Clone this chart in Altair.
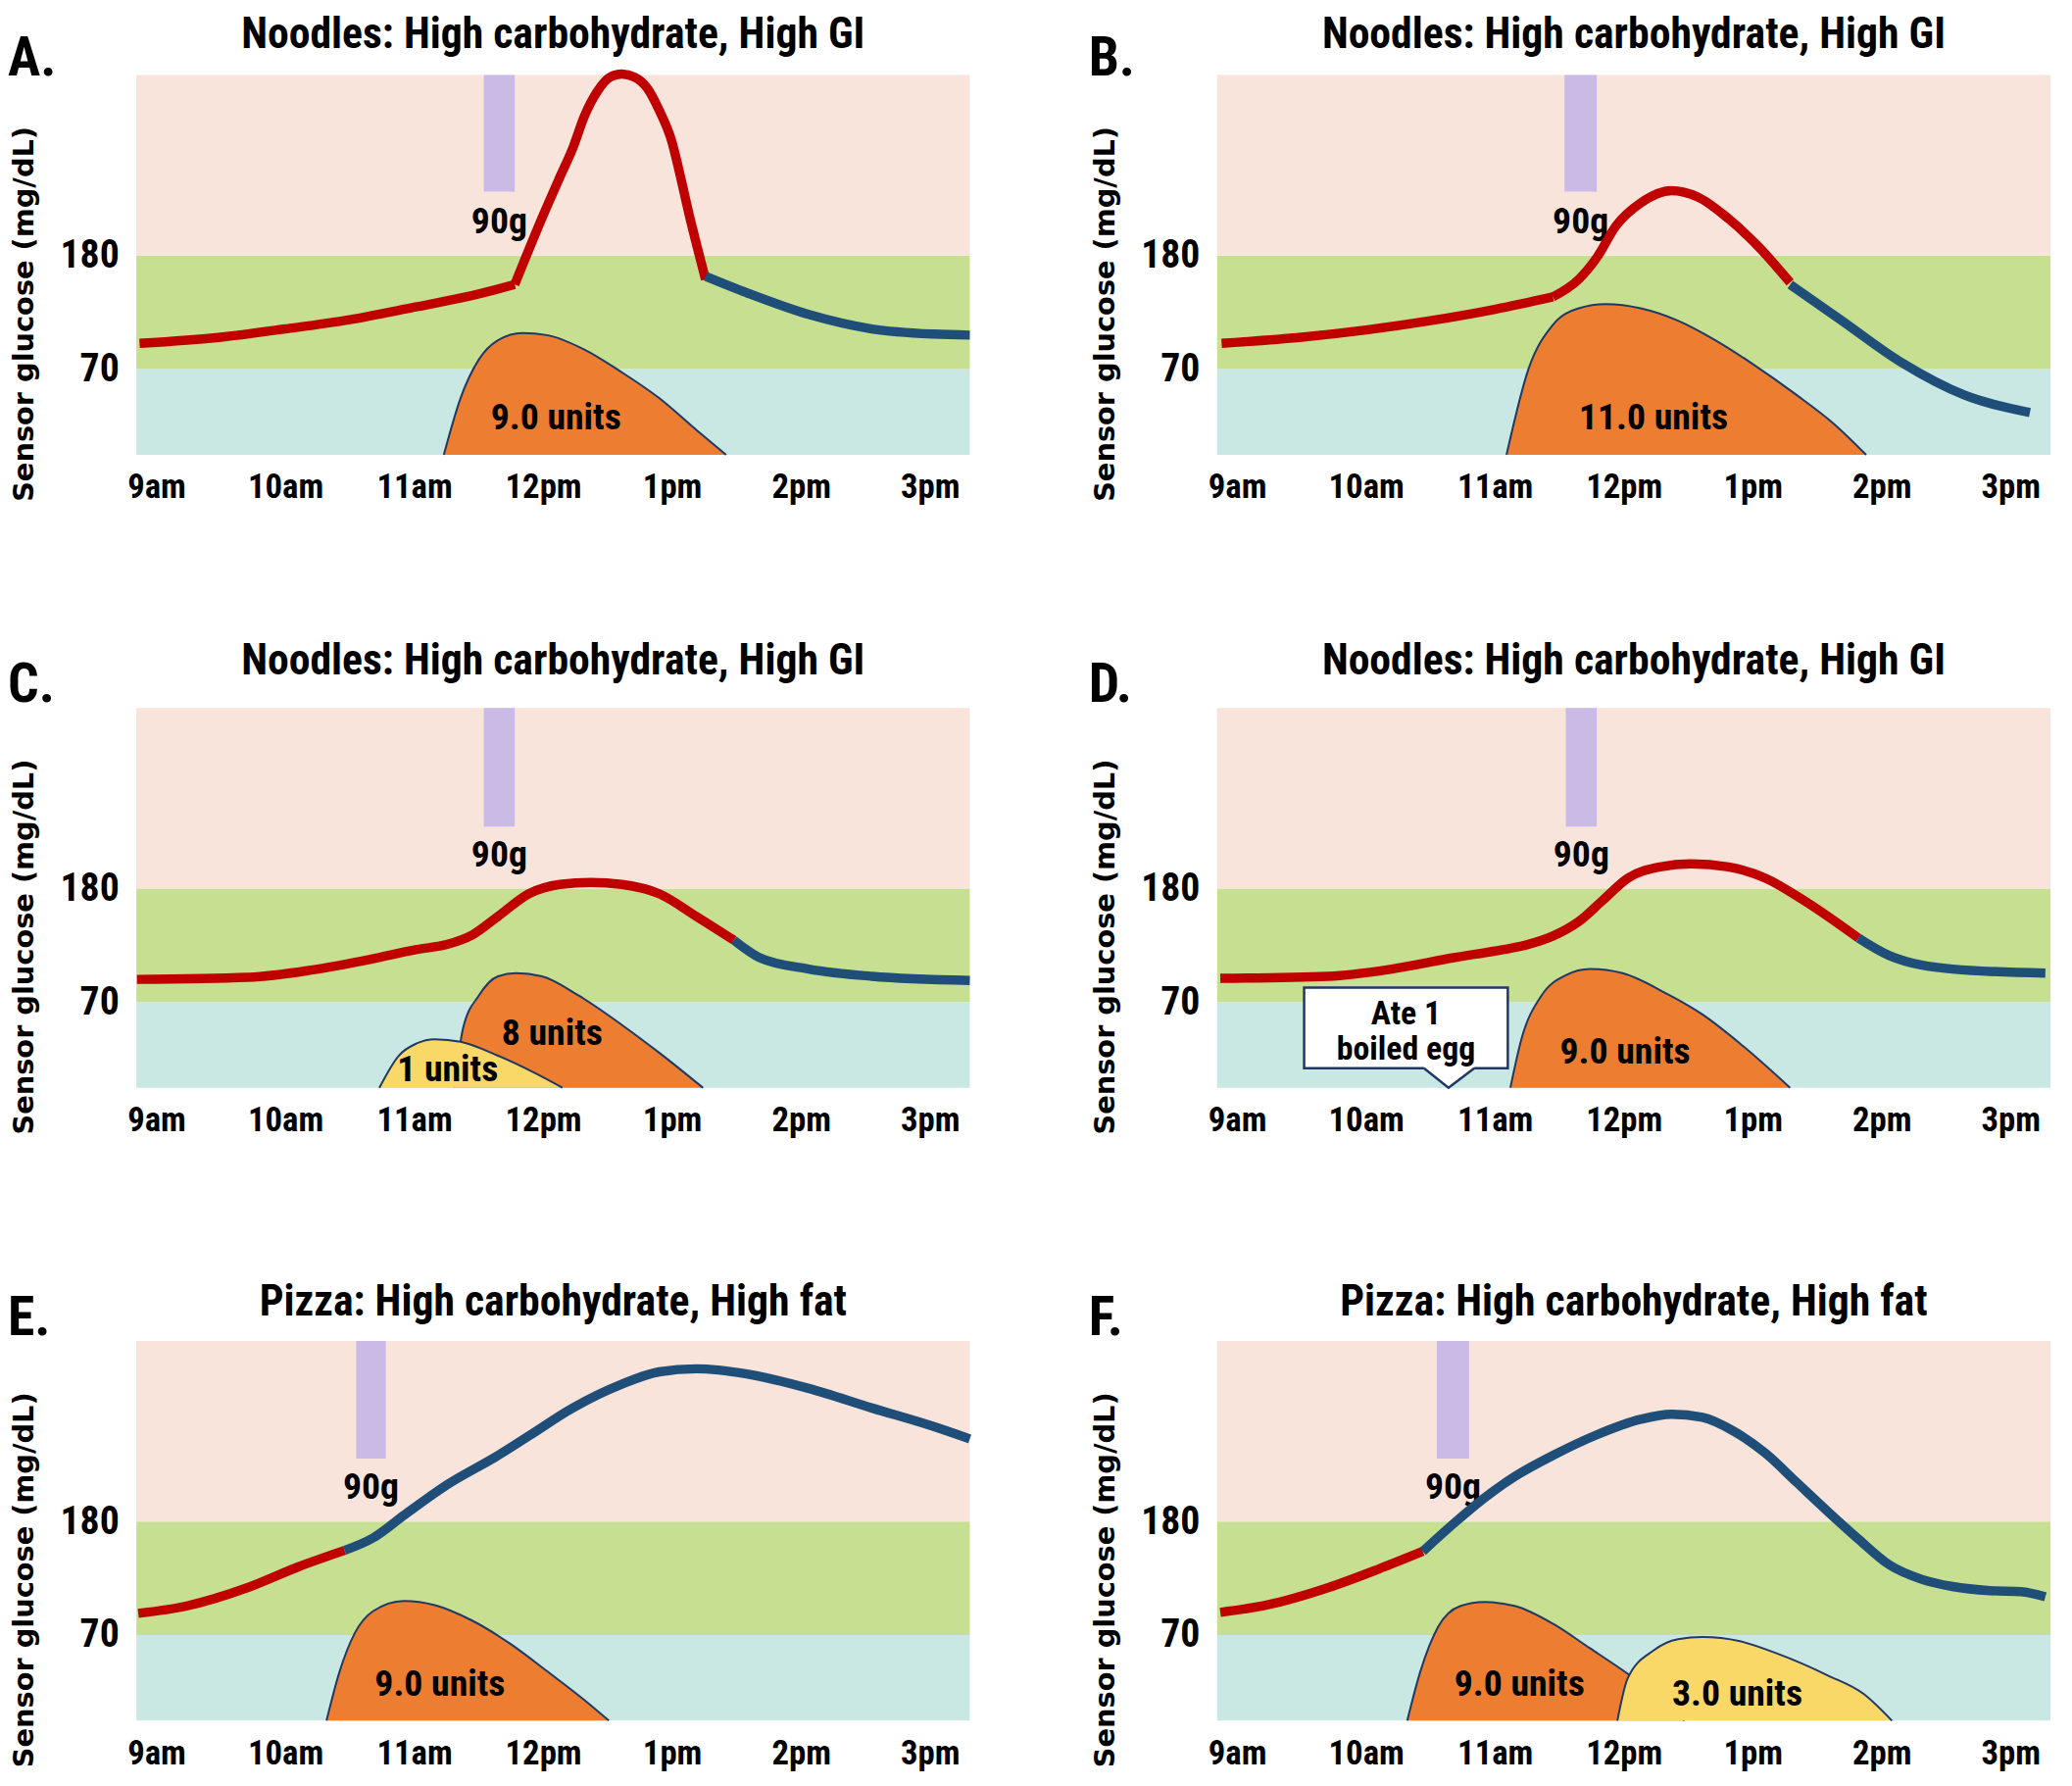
import altair as alt
import pandas as pd

NARROW = "Liberation Sans Narrow, Roboto Condensed, DejaVu Sans Condensed, Liberation Sans"
WIDE = "DejaVu Sans, Liberation Sans, Arial"

# ---------------- shared axes / background ----------------
X_DOMAIN = [8.845, 15.31]
Y_DOMAIN = [-13, 355]
HOUR_TICKS = [9, 10, 11, 12, 13, 14, 15]
HOUR_LABELS = ["9am", "10am", "11am", "12pm", "1pm", "2pm", "3pm"]
GLUCOSE_TICKS = [70, 180]
BAND_LOW = [-13, 70, 180]
BAND_HIGH = [70, 180, 355]
BAND_COLORS = ["#c9e8e4", "#c6df90", "#f8e4da"]

LETTERS = ["A.", "B.", "C.", "D.", "E.", "F."]
TITLES = ["Noodles: High carbohydrate, High GI"] * 4 + ["Pizza: High carbohydrate, High fat"] * 2

MEAL_START = [11.54, 11.54, 11.54, 11.55, 10.55, 10.55]
MEAL_END = [11.78, 11.79, 11.78, 11.79, 10.78, 10.80]
MEAL_LOW = [242, 242, 240, 240, 241, 241]
MEAL_TEXT = ["90g"] * 6
MEAL_TEXT_G = [212] * 6

RED = "#c00000"
BLUE = "#1f4e79"
ORANGE = "#ed7d31"
YELLOW = "#f9d867"
NAVY = "#1f3864"
PURPLE = "#c9bbe6"

# ---------------- glucose curves (time in hours, mg/dL) ----------------
A_RED1_T = [8.87, 9.5, 10.0, 10.5, 11.0, 11.4, 11.78]
A_RED1_G = [95, 101, 109, 118, 130, 140, 152]
A_RED2_T = [11.78, 11.99, 12.13, 12.23, 12.32, 12.42, 12.52, 12.61, 12.71, 12.81, 12.9, 13.0, 13.05, 13.14, 13.19, 13.26]
A_RED2_G = [152, 216, 256, 284, 315, 339, 353, 356, 353, 342, 321, 290, 265, 216, 191, 157]
A_BLUE_T = [13.26, 13.58, 14.06, 14.55, 15.03, 15.31]
A_BLUE_G = [160, 144, 123, 109, 104, 103]

B_RED1_T = [8.88, 9.5, 10.0, 10.5, 11.0, 11.45]
B_RED1_G = [95, 101, 108, 117, 128, 140]
B_RED2_T = [11.45, 11.65, 11.79, 11.94, 12.13, 12.37, 12.57, 12.81, 13.05, 13.29]
B_RED2_G = [140, 157, 178, 209, 231, 243, 237, 216, 188, 154]
B_BLUE_T = [13.29, 13.68, 14.16, 14.64, 15.15]
B_BLUE_G = [152, 118, 76, 45, 28]

C_RED_T = [8.85, 9.71, 10.2, 10.68, 11.02, 11.26, 11.45, 11.65, 11.89, 12.13, 12.37, 12.61, 12.9, 13.19, 13.48]
C_RED_G = [92, 94, 101, 112, 121, 126, 135, 153, 175, 184, 186, 184, 175, 153, 130]
C_BLUE_T = [13.48, 13.68, 14.06, 14.55, 15.31]
C_BLUE_G = [130, 113, 102, 95, 91]

D_RED_T = [8.87, 9.71, 10.2, 10.68, 11.07, 11.26, 11.45, 11.65, 11.84, 12.03, 12.28, 12.52, 12.81, 13.1, 13.39, 13.82]
D_RED_G = [93, 95, 102, 113, 121, 126, 134, 148, 169, 190, 201, 204, 201, 190, 169, 132]
D_BLUE_T = [13.82, 14.06, 14.55, 15.27]
D_BLUE_G = [132, 115, 102, 98]

E_RED_T = [8.86, 9.23, 9.71, 10.1, 10.46]
E_RED_G = [91, 98, 116, 136, 152]
E_BLUE_T = [10.46, 10.68, 10.92, 11.26, 11.65, 11.89, 12.23, 12.61, 12.9, 13.19, 13.58, 14.06, 14.55, 15.03, 15.31]
E_BLUE_G = [152, 164, 186, 216, 244, 263, 290, 313, 325, 328, 323, 309, 290, 272, 260]

F_RED_T = [8.87, 9.23, 9.71, 10.1, 10.44]
F_RED_G = [92, 99, 116, 134, 151]
F_BLUE_T = [10.44, 10.68, 10.92, 11.16, 11.45, 11.79, 12.13, 12.37, 12.61, 12.86, 13.1, 13.34, 13.58, 13.82, 14.06, 14.31, 14.55, 14.84, 15.08, 15.27]
F_BLUE_G = [151, 178, 203, 224, 244, 264, 279, 284, 281, 267, 246, 218, 190, 163, 138, 124, 117, 113, 112, 107]

# ---------------- insulin curves (drawn on glucose scale) ----------------
A_ORANGE_T = [11.23, 11.36, 11.5, 11.65, 11.84, 12.03, 12.32, 12.61, 12.9, 13.19, 13.42]
A_ORANGE_G = [-13, 42, 79, 98, 105, 103, 89, 67, 42, 11, -13]
B_ORANGE_T = [11.09, 11.26, 11.45, 11.65, 11.86, 12.13, 12.42, 12.71, 13.0, 13.34, 13.63, 13.88]
B_ORANGE_G = [-13, 70, 113, 129, 133, 129, 117, 98, 75, 45, 17, -13]
C_ORANGE_T = [11.31, 11.38, 11.5, 11.65, 11.79, 11.99, 12.28, 12.61, 12.9, 13.24]
C_ORANGE_G = [-13, 45, 76, 95, 98, 95, 76, 48, 21, -13]
C_YELLOW_T = [10.73, 10.88, 11.02, 11.16, 11.36, 11.65, 11.94, 12.15]
C_YELLOW_G = [-13, 18, 30, 34, 31.5, 18, 1, -13]
D_ORANGE_T = [11.12, 11.21, 11.36, 11.55, 11.74, 11.99, 12.32, 12.61, 12.9, 13.29]
D_ORANGE_G = [-13, 36, 76, 96, 102, 98, 79, 58, 30, -13]
E_ORANGE_T = [10.32, 10.42, 10.54, 10.68, 10.92, 11.16, 11.45, 11.74, 12.03, 12.32, 12.51]
E_ORANGE_G = [-13, 34, 72, 93, 103, 99, 84, 62, 35, 7, -13]
F_ORANGE_T = [10.32, 10.42, 10.56, 10.73, 10.92, 11.16, 11.45, 11.74, 11.99, 12.13, 12.32, 12.47]
F_ORANGE_G = [-13, 34, 78, 98, 102, 98, 81, 57, 36, 23.5, 5, -13]
F_YELLOW_T = [11.95, 12.03, 12.23, 12.42, 12.61, 12.9, 13.19, 13.58, 13.86, 14.08]
F_YELLOW_G = [-13, 28, 55, 66, 68, 64, 52, 31, 13, -13]

# unit labels: text, time, glucose
A_LABELS = (["9.0 units"], [12.1], [22])
B_LABELS = (["11.0 units"], [12.23], [22])
C_LABELS = (["8 units", "1 units"], [12.07, 11.26], [39, 4])
D_LABELS = (["9.0 units"], [12.01], [21])
E_LABELS = (["9.0 units"], [11.2], [21])
F_LABELS = (["9.0 units", "3.0 units"], [11.19, 12.88], [21, 12])

# callout in panel D
EGG_BOX_T = [9.52, 11.10]
EGG_BOX_G = [6, 84]
EGG_PTR_T = [10.45, 10.64, 10.84]
EGG_PTR_G = [6, -13, 6]
EGG_TEXT = ["Ate 1", "boiled egg"]
EGG_TEXT_T = [10.31, 10.31]
EGG_TEXT_G = [58, 24]

PANELS = [
    dict(glu=[(A_RED1_T, A_RED1_G, RED), (A_RED2_T, A_RED2_G, RED), (A_BLUE_T, A_BLUE_G, BLUE)],
         ins=[(A_ORANGE_T, A_ORANGE_G, ORANGE)], labels=A_LABELS),
    dict(glu=[(B_RED1_T, B_RED1_G, RED), (B_RED2_T, B_RED2_G, RED), (B_BLUE_T, B_BLUE_G, BLUE)],
         ins=[(B_ORANGE_T, B_ORANGE_G, ORANGE)], labels=B_LABELS),
    dict(glu=[(C_RED_T, C_RED_G, RED), (C_BLUE_T, C_BLUE_G, BLUE)],
         ins=[(C_ORANGE_T, C_ORANGE_G, ORANGE), (C_YELLOW_T, C_YELLOW_G, YELLOW)], labels=C_LABELS),
    dict(glu=[(D_RED_T, D_RED_G, RED), (D_BLUE_T, D_BLUE_G, BLUE)],
         ins=[(D_ORANGE_T, D_ORANGE_G, ORANGE)], labels=D_LABELS, callout=True),
    dict(glu=[(E_RED_T, E_RED_G, RED), (E_BLUE_T, E_BLUE_G, BLUE)],
         ins=[(E_ORANGE_T, E_ORANGE_G, ORANGE)], labels=E_LABELS),
    dict(glu=[(F_RED_T, F_RED_G, RED), (F_BLUE_T, F_BLUE_G, BLUE)],
         ins=[(F_ORANGE_T, F_ORANGE_G, ORANGE), (F_YELLOW_T, F_YELLOW_G, YELLOW)], labels=F_LABELS),
]

W, H = 856, 390
H_SPACING, V_SPACING = 254, 260
TITLE_BASE = [-28, -28, -34, -34, -26, -26]
LETTER_BASE = [0, 0, -6, -6, -6, -6]

label_expr = "''"
for v, lab in reversed(list(zip(HOUR_TICKS, HOUR_LABELS))):
    label_expr = f"datum.value == {v} ? '{lab}' : ({label_expr})"

x_axis = alt.Axis(values=HOUR_TICKS, labelExpr=label_expr, title=None, domain=False, ticks=False,
                  grid=False, labelFont=NARROW, labelFontWeight="bold", labelFontSize=35,
                  labelPadding=16, labelColor="black", labelFlush=False, labelOverlap=False)
y_axis = alt.Axis(values=GLUCOSE_TICKS, format="d", title="Sensor glucose (mg/dL)", domain=False,
                  ticks=False, grid=False, labelFont=NARROW, labelFontWeight="bold", labelFontSize=40,
                  labelPadding=18, labelColor="black", labelFlush=False, labelOverlap=False,
                  titleFont=WIDE, titleFontWeight="bold", titleFontSize=29, titleColor="black",
                  titleAngle=270, titleX=-115, titleY=245, titleAlign="center", titleBaseline="middle")
xs = alt.Scale(domain=X_DOMAIN, nice=False, zero=False)
ys = alt.Scale(domain=Y_DOMAIN, nice=False, zero=False)


def X(f):
    return alt.X(f, type="quantitative", scale=xs, axis=x_axis)


def Y(f):
    return alt.Y(f, type="quantitative", scale=ys, axis=y_axis)


def make_panel(i):
    p = PANELS[i]
    layers = []
    bands = pd.DataFrame({"t0": [X_DOMAIN[0]] * 3, "t1": [X_DOMAIN[1]] * 3,
                          "lo": BAND_LOW, "hi": BAND_HIGH, "c": BAND_COLORS})
    layers.append(alt.Chart(bands).mark_rect().encode(
        x=X("t0"), x2="t1", y=Y("lo"), y2="hi", color=alt.Color("c:N", scale=None)))

    meal = pd.DataFrame({"t0": [MEAL_START[i]], "t1": [MEAL_END[i]], "lo": [MEAL_LOW[i]],
                         "hi": [Y_DOMAIN[1]], "tm": [(MEAL_START[i] + MEAL_END[i]) / 2],
                         "gm": [MEAL_TEXT_G[i]], "s": [MEAL_TEXT[i]]})
    layers.append(alt.Chart(meal).mark_rect(color=PURPLE).encode(x=X("t0"), x2="t1", y=Y("lo"), y2="hi"))
    layers.append(alt.Chart(meal).mark_text(font=NARROW, fontWeight="bold", fontSize=38, color="black",
                                            baseline="middle").encode(x=X("tm"), y=Y("gm"), text="s:N"))

    for t, g, c in p["ins"]:
        df = pd.DataFrame({"t": t, "g": g, "base": [Y_DOMAIN[0]] * len(t)})
        layers.append(alt.Chart(df).mark_area(color=c, opacity=1, interpolate="monotone",
                                              line={"color": NAVY, "strokeWidth": 2}).encode(
            x=X("t"), y=Y("g"), y2="base"))

    if p.get("callout"):
        box = pd.DataFrame({"t0": [EGG_BOX_T[0]], "t1": [EGG_BOX_T[1]], "lo": [EGG_BOX_G[0]], "hi": [EGG_BOX_G[1]]})
        layers.append(alt.Chart(box).mark_rect(fill="white", stroke=NAVY, strokeWidth=2.5).encode(
            x=X("t0"), x2="t1", y=Y("lo"), y2="hi"))
        ptr = pd.DataFrame({"t": EGG_PTR_T, "g": EGG_PTR_G, "top": [EGG_BOX_G[0] + 2] * 3})
        layers.append(alt.Chart(ptr).mark_area(color="white", opacity=1).encode(x=X("t"), y=Y("g"), y2="top"))
        layers.append(alt.Chart(ptr).mark_line(color=NAVY, strokeWidth=2.5).encode(x=X("t"), y=Y("g")))
        et = pd.DataFrame({"s": EGG_TEXT, "t": EGG_TEXT_T, "g": EGG_TEXT_G})
        layers.append(alt.Chart(et).mark_text(font=NARROW, fontWeight="bold", fontSize=34, color="black",
                                              baseline="middle").encode(x=X("t"), y=Y("g"), text="s:N"))

    for t, g, c in p["glu"]:
        df = pd.DataFrame({"t": t, "g": g})
        layers.append(alt.Chart(df).mark_line(color=c, strokeWidth=9.5, interpolate="monotone",
                                              strokeCap="butt").encode(x=X("t"), y=Y("g")))

    txt, tt, tg = p["labels"]
    lab = pd.DataFrame({"s": txt, "t": tt, "g": tg})
    layers.append(alt.Chart(lab).mark_text(font=NARROW, fontWeight="bold", fontSize=38, color="black",
                                           baseline="middle").encode(x=X("t"), y=Y("g"), text="s:N"))

    head = pd.DataFrame({"letter": [LETTERS[i]], "title": [TITLES[i]]})
    layers.append(alt.Chart(head).mark_text(font=NARROW, fontWeight="bold", fontSize=56, color="black",
                                            align="left", baseline="alphabetic").encode(
        text="letter:N", x=alt.value(-132), y=alt.value(LETTER_BASE[i])))
    layers.append(alt.Chart(head).mark_text(font=NARROW, fontWeight="bold", fontSize=44, color="black",
                                            align="center", baseline="alphabetic").encode(
        text="title:N", x=alt.value(W / 2), y=alt.value(TITLE_BASE[i])))

    return alt.layer(*layers).properties(width=W, height=H)


panels = [make_panel(i) for i in range(6)]
chart = alt.concat(*panels, columns=2, spacing={"row": V_SPACING, "column": H_SPACING},
                   bounds="flush").configure_view(stroke=None).properties(padding=0, background="white")

chart.save("out.html", embed_options={"renderer": "svg", "actions": False})
